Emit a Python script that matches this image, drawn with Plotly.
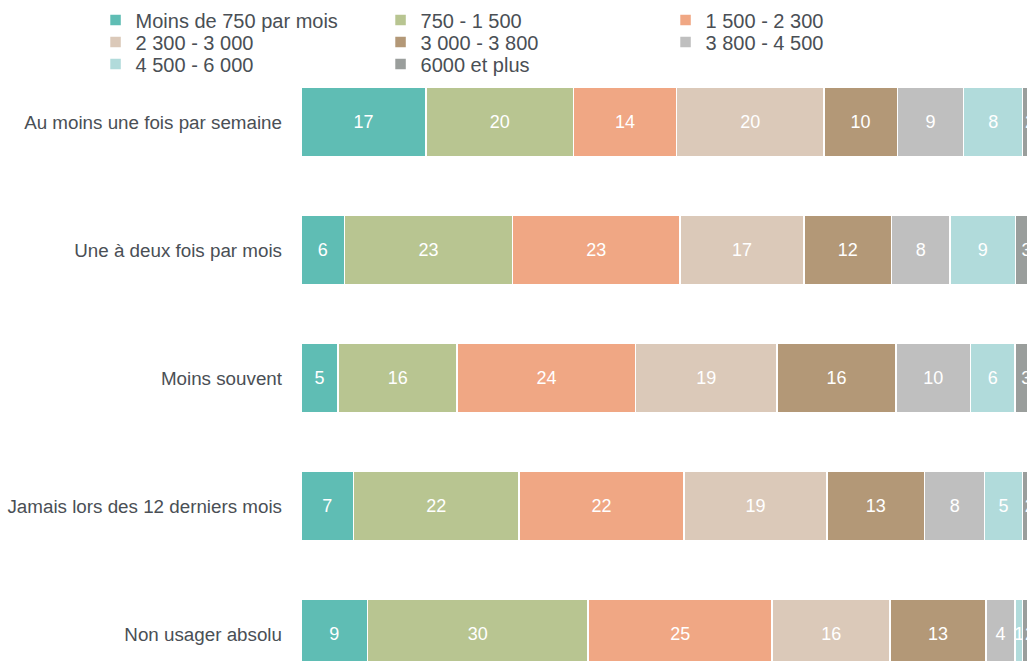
import plotly.graph_objects as go

categories = [
    "Au moins une fois par semaine",
    "Une à deux fois par mois",
    "Moins souvent",
    "Jamais lors des 12 derniers mois",
    "Non usager absolu",
]

series_names = [
    "Moins de 750 par mois",
    "750 - 1 500",
    "1 500 - 2 300",
    "2 300 - 3 000",
    "3 000 - 3 800",
    "3 800 - 4 500",
    "4 500 - 6 000",
    "6000 et plus",
]

moins_750 = [17, 6, 5, 7, 9]
r750_1500 = [20, 23, 16, 22, 30]
r1500_2300 = [14, 23, 24, 22, 25]
r2300_3000 = [20, 17, 19, 19, 16]
r3000_3800 = [10, 12, 16, 13, 13]
r3800_4500 = [9, 8, 10, 8, 4]
r4500_6000 = [8, 9, 6, 5, 1]
plus_6000 = [2, 3, 3, 2, 2]

series_values = [moins_750, r750_1500, r1500_2300, r2300_3000,
                 r3000_3800, r3800_4500, r4500_6000, plus_6000]

colors = ["#5fbdb4", "#b8c591", "#f0a784", "#dbc9b9",
          "#b39877", "#bfbfbf", "#b1dbdb", "#9a9e9c"]

FONT = "Liberation Sans, Arial, sans-serif"
TXT = "#4a4f55"

legend_ids = ["legend", "legend", "legend", "legend2", "legend2", "legend2", "legend3", "legend3"]

fig = go.Figure()
for name, vals, col, lg in zip(series_names, series_values, colors, legend_ids):
    fig.add_trace(go.Bar(
        y=categories, x=vals, name=name, orientation="h", legend=lg,
        marker=dict(color=col, line=dict(color="white", width=1.5)),
        text=vals, texttemplate="%{text}", textposition="inside",
        insidetextanchor="middle", constraintext="none",
        textfont=dict(color="white", size=18, family=FONT),
        width=0.54,
    ))

def leg(yc):
    return dict(
        orientation="h", x=-0.283, xanchor="left", y=yc, yanchor="middle",
        entrywidth=240, entrywidthmode="pixels", traceorder="normal",
        font=dict(size=20, color=TXT, family=FONT), itemwidth=30,
        bgcolor="rgba(0,0,0,0)",
    )

fig.update_layout(
    barmode="stack",
    barnorm="percent",
    width=1027, height=661,
    margin=dict(l=301, r=0, t=80, b=0),
    paper_bgcolor="white", plot_bgcolor="white",
    font=dict(family=FONT, color=TXT, size=18),
    showlegend=True,
    legend=leg(1.1033),
    legend2=leg(1.0654),
    legend3=leg(1.0275),
    xaxis=dict(range=[0, 98.6], visible=False, fixedrange=True),
    yaxis=dict(range=[4.211, -0.328], showgrid=False, zeroline=False,
               showline=False, ticks="", ticklabelstandoff=18,
               tickfont=dict(size=18.8, color=TXT, family=FONT)),
)

fig.write_html(
    "out.html",
    config={"displayModeBar": False},
    post_script="document.documentElement.style.overflow='hidden';"
                "document.body.style.margin='0';document.body.style.overflow='hidden';",
)
